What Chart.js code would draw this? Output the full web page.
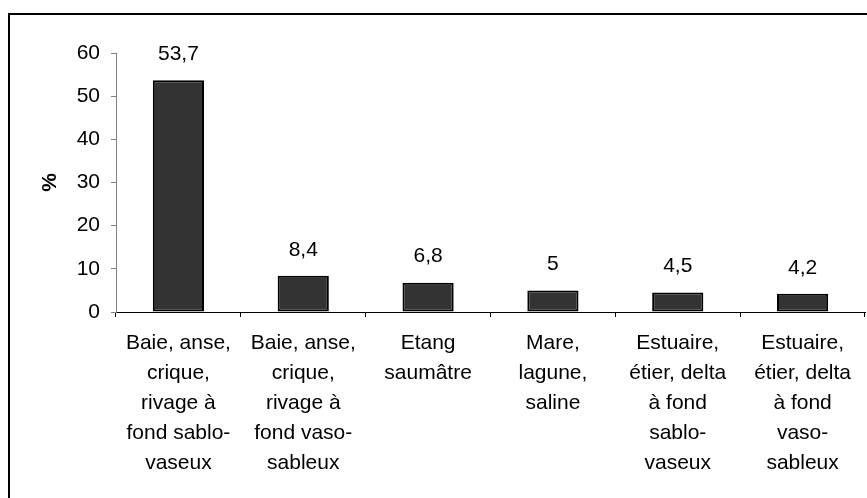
<!DOCTYPE html>
<html>
<head>
<meta charset="utf-8">
<script src="https://cdn.jsdelivr.net/npm/chart.js@4.4.1/dist/chart.umd.min.js"></script>
<style>
  html, body { margin: 0; padding: 0; background: #fff; overflow: hidden; }
  #wrap { position: relative; width: 867px; height: 498px; }
  #frame { position: absolute; left: 8px; top: 13px; width: 900px; height: 520px; border: 2px solid #000; box-sizing: border-box; }
  canvas { position: absolute; left: 0; top: 0; }
</style>
</head>
<body>
<div id="wrap">
  <div id="frame"></div>
  <canvas id="chart" width="867" height="498"></canvas>
</div>
<script>
// categories (multi-line labels as in the original)
const categories = [
  ['Baie, anse,', 'crique,', 'rivage à', 'fond sablo-', 'vaseux'],
  ['Baie, anse,', 'crique,', 'rivage à', 'fond vaso-', 'sableux'],
  ['Etang', 'saumâtre'],
  ['Mare,', 'lagune,', 'saline'],
  ['Estuaire,', 'étier, delta', 'à fond', 'sablo-', 'vaseux'],
  ['Estuaire,', 'étier, delta', 'à fond', 'vaso-', 'sableux']
];
const percentages = [53.7, 8.4, 6.8, 5, 4.5, 4.2];
const yTicks = [0, 10, 20, 30, 40, 50, 60];

const FONT = "'Liberation Sans', Arial, sans-serif";
const FS = 21;

// draw the value above each bar, french decimal comma
const valueLabels = {
  id: 'valueLabels',
  afterDatasetsDraw(chart) {
    const ctx = chart.ctx;
    const meta = chart.getDatasetMeta(0);
    ctx.save();
    ctx.font = FS + 'px ' + FONT;
    ctx.fillStyle = '#000';
    ctx.textAlign = 'center';
    ctx.textBaseline = 'middle';
    meta.data.forEach((bar, i) => {
      const txt = String(percentages[i]).replace('.', ',');
      ctx.fillText(txt, bar.x, bar.y - 26);
    });
    ctx.restore();
  }
};

const chart = new Chart(document.getElementById('chart').getContext('2d'), {
  type: 'bar',
  data: {
    labels: categories,
    datasets: [{
      data: percentages,
      backgroundColor: '#333333',
      borderColor: '#000000',
      borderWidth: 2,
      borderSkipped: false,
      barPercentage: 0.41,
      categoryPercentage: 1
    }]
  },
  options: {
    responsive: false,
    animation: false,
    layout: { padding: { left: 20, top: 53, right: 2, bottom: 0 } },
    plugins: {
      legend: { display: false },
      tooltip: { enabled: false }
    },
    scales: {
      x: {
        grid: {
          display: true,
          drawOnChartArea: false,
          drawTicks: true,
          tickLength: 5,
          color: '#000',
          offset: true
        },
        border: { display: true, color: '#000', width: 1 },
        ticks: {
          color: '#000',
          padding: 11,
          maxRotation: 0,
          autoSkip: false,
          font: { family: FONT, size: FS, lineHeight: 30 / FS }
        },
        afterFit(scale) { scale.height = 186; }
      },
      y: {
        min: 0,
        max: 60,
        afterBuildTicks(scale) { scale.ticks = yTicks.map(v => ({ value: v })); },
        grid: {
          display: true,
          drawOnChartArea: false,
          drawTicks: true,
          tickLength: 5,
          color: '#808080'
        },
        border: { display: true, color: '#808080', width: 1 },
        ticks: {
          color: '#000',
          padding: 11,
          font: { family: FONT, size: FS }
        },
        title: {
          display: true,
          text: '%',
          color: '#000',
          padding: { top: 18, bottom: 0 },
          font: { family: FONT, size: FS, weight: 'bold', lineHeight: 24 / FS }
        },
        afterFit(scale) { scale.width = 96; }
      }
    }
  },
  plugins: [valueLabels]
});
</script>
</body>
</html>
